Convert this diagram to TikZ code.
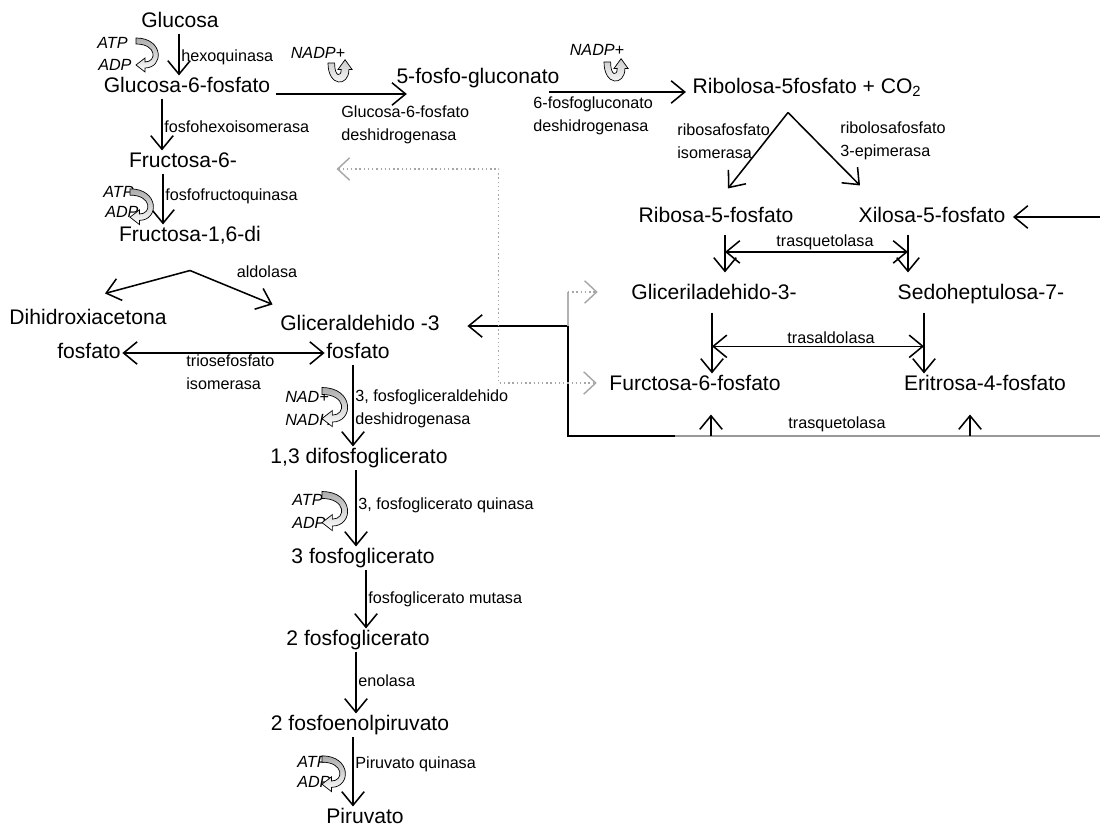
\documentclass[tikz,border=0pt]{standalone}
\usepackage{fontspec}
\setmainfont{Liberation Sans}
\usepackage{tikz}
\usetikzlibrary{arrows.meta,calc}

\tikzset{
  turnarrow/.pic={
    \path[draw, line width=0.5pt, top color=gray!65, bottom color=white]
      (0,-3) .. controls (28,-3) and (28,27) .. (9,27) -- (9,31) -- (0,24)
      -- (9,17) -- (9,21) .. controls (21,21) and (21,3) .. (0,3) -- cycle;
  },
  uarrow/.pic={
    \path[draw, line width=0.5pt, top color=gray!40, bottom color=white]
      (0,0) .. controls (0,22) and (19,22) .. (19,6) -- (22,6) -- (15.5,-3)
      -- (9,6) -- (12,6) .. controls (12,13) and (6,13) .. (6,0) -- cycle;
  },
}

\begin{document}
\begin{tikzpicture}[
  x=0.025cm, y=-0.025cm,
  met/.style={font=\fontsize{15}{18}\selectfont, text height=11pt, text depth=3pt, inner sep=1pt},
  enz/.style={font=\fontsize{11.5}{16}\selectfont, align=left, inner sep=1.5pt},
  cof/.style={font=\fontsize{11.5}{14}\selectfont\itshape, inner sep=0pt},
  arr/.style={-{Straight Barb[length=3.4mm,width=5.6mm]}, line width=1.1pt},
  darr/.style={{Straight Barb[length=3.4mm,width=5.6mm]}-{Straight Barb[length=3.4mm,width=5.6mm]}, line width=1.1pt},
  dotline/.style={gray!70, dotted, line width=1pt},
]
\fill[white] (0,0) rectangle (1100,832);
\useasboundingbox (0,0) rectangle (1100,832);

\node[met] (glc) at (180,22) {Glucosa};
\node[met] (g6p) at (187,87) {Glucosa-6-fosfato};
\node[met] (f6p) at (183,162) {Fructosa-6-};
\node[met] (fbp) at (190,236) {Fructosa-1,6-di};
\node[met] (dhap) at (88,319) {Dihidroxiacetona};
\node[met] (dhapf) at (89,353) {fosfato};
\node[met] (g3p) at (360,325) {Gliceraldehido -3};
\node[met] (g3pf) at (358,353) {fosfato};
\node[met] (bpg) at (359,458) {1,3 difosfoglicerato};
\node[met] (pga3) at (363,558) {3 fosfoglicerato};
\node[met] (pga2) at (358,640) {2 fosfoglicerato};
\node[met] (pep) at (360,725) {2 fosfoenolpiruvato};
\node[met] (pyr) at (365,818) {Piruvato};

\node[met] (pg) at (478,78) {5-fosfo-gluconato};
\node[met] (rib) at (807,88) {Ribolosa-5fosfato + CO\textsubscript{2}};
\node[met] (r5p) at (716,217) {Ribosa-5-fosfato};
\node[met] (x5p) at (932,217) {Xilosa-5-fosfato};
\node[met] (gadp) at (714,294) {Gliceriladehido-3-};
\node[met] (s7p) at (981,294) {Sedoheptulosa-7-};
\node[met] (f6pb) at (695,385) {Furctosa-6-fosfato};
\node[met] (e4p) at (985,385) {Eritrosa-4-fosfato};

\node[enz, anchor=west] (hk) at (179,57) {hexoquinasa};
\node[enz, anchor=west] (phi) at (162,127) {fosfohexoisomerasa};
\node[enz, anchor=west] (pfk) at (163,196) {fosfofructoquinasa};
\node[enz] (ald) at (267,272) {aldolasa};
\node[enz, anchor=west] (tpi) at (184,372) {triosefosfato\\isomerasa};
\node[enz, anchor=west] (gapdh) at (353,409) {3, fosfogliceraldehido\\deshidrogenasa};
\node[enz, anchor=west] (pgk) at (356,505) {3, fosfoglicerato quinasa};
\node[enz, anchor=west] (pgm) at (366,599) {fosfoglicerato mutasa};
\node[enz, anchor=west] (eno) at (356,681) {enolasa};
\node[enz, anchor=west] (pk) at (353,764) {Piruvato quinasa};
\node[enz, anchor=west] (g6pdh) at (339,125) {Glucosa-6-fosfato\\deshidrogenasa};
\node[enz, anchor=west] (pgdh) at (531,116) {6-fosfogluconato\\deshidrogenasa};
\node[enz, anchor=west] (rpi) at (675,141) {ribosafosfato\\isomerasa};
\node[enz, anchor=west] (rpe) at (838,141) {ribolosafosfato\\3-epimerasa};
\node[enz] (tk1) at (825,242) {trasquetolasa};
\node[enz] (tal) at (831,338) {trasaldolasa};
\node[enz] (tk2) at (837,424) {trasquetolasa};

\node[cof, anchor=west] (atp1) at (97,43) {ATP};
\node[cof, anchor=west] (adp1) at (98,65) {ADP};
\node[cof, anchor=west] (atp2) at (103,192) {ATP};
\node[cof, anchor=west] (adp2) at (105,212) {ADP};
\node[cof, anchor=west] (nad) at (285,397) {NAD+};
\node[cof, anchor=west] (nadh) at (285,420) {NADH};
\node[cof, anchor=west] (atp3) at (292,500) {ATP};
\node[cof, anchor=west] (adp3) at (292,523) {ADP};
\node[cof, anchor=west] (atp4) at (297,762) {ATP};
\node[cof, anchor=west] (adp4) at (297,782) {ADP};
\node[cof] (nadp1) at (318,53) {NADP+};
\node[cof] (nadp2) at (597,50) {NADP+};

\draw[arr] (glc.south -| hk.west) -- (g6p.north -| hk.west);
\draw[arr] (g6p.south -| phi.west) -- (f6p.north -| phi.west);
\draw[arr] (f6p.south -| pfk.west) -- (fbp.north -| pfk.west);
\coordinate (apex) at ($(fbp.south)+(0,23)$);
\draw[arr] (apex) -- ($(dhap.north)+(17,-14)$);
\draw[arr] (apex) -- ($(g3p.north west)+(-6,-9)$);
\draw[darr] (dhapf) -- (g3pf);
\draw[arr] (g3pf.south -| gapdh.west) -- (bpg.north -| gapdh.west);
\draw[arr] (bpg.south -| pgk.west) -- (pga3.north -| pgk.west);
\draw[arr] (pga3.south -| pgm.west) -- (pga2.north -| pgm.west);
\draw[arr] (pga2.south -| eno.west) -- (pep.north -| eno.west);
\draw[arr] (pep.south -| pk.west) -- (pyr.north -| pk.west);

\coordinate (h1) at ($(g6p.east)+(4,7)$);
\coordinate (h2) at ($(pg.east)+(-12,14)$);
\draw[arr] (h1) -- ($(h1 -| pg.west)+(12,0)$);
\draw[arr] (h2) -- ($(h2 -| rib.west)+(-5,0)$);
\coordinate (vtop) at ($(rib.south)+(-19,13)$);
\draw[arr] (vtop) -- ($(r5p.north)+(12,-17)$);
\draw[arr] (vtop) -- ($(x5p.north)+(-72,-20)$);
\coordinate (xin) at (1100,217);
\draw[arr] (xin) -- ($(x5p.east)+(6,0)$);

\coordinate (c1) at ($(r5p.south)+(9,6)$);
\coordinate (c2) at ($(x5p.south)+(-24,6)$);
\coordinate (c3) at ($(gadp.south)+(-2,7)$);
\coordinate (c4) at ($(s7p.south)+(-57,7)$);
\draw[arr, shorten >=2.5mm] (c1) -- (c1 |- gadp.north);
\draw[arr, shorten >=2.5mm] (c2) -- (c2 |- s7p.north);
\draw[darr] (c1 |- tk1.south) -- (c2 |- tk1.south);
\draw[arr] (c3) -- (c3 |- f6pb.north);
\draw[arr] (c4) -- (c4 |- e4p.north);
\draw[darr] (c3 |- tal.south) -- (c4 |- tal.south);

\coordinate (redge) at (1100,436);
\coordinate (corner) at (568,436);
\coordinate (midb) at (675,436);
\coordinate (g3pin) at ($(g3p.east)+(26,1)$);
\draw[line width=1.1pt, gray!80] (redge) -- (midb);
\draw[arr] (midb) -- (corner) |- (g3pin);
\coordinate (u1) at ($(f6pb.south)+(16,18)$);
\coordinate (u2) at ($(e4p.south)+(-15,18)$);
\draw[arr] (u1 |- redge) -- (u1);
\draw[arr] (u2 |- redge) -- (u2);

\coordinate (gadpin) at ($(gadp.west)+(-32,-2)$);
\draw[line width=0.8pt, gray!60] (corner |- g3pin) -- (corner |- gadpin);
\draw[dotline, -{Straight Barb[length=3mm,width=5.6mm]}] (corner |- gadpin) -- (gadpin);
\coordinate (f6in) at ($(f6pb.west)+(-11,-2)$);
\coordinate (f6back) at ($(f6p.east)+(98,7)$);
\coordinate (dturn) at ($(f6in)+(-98,0)$);
\draw[dotline, {Straight Barb[length=3mm,width=5.6mm]}-{Straight Barb[length=3mm,width=5.6mm]}] (f6back) -| (dturn) -- (f6in);

\pic at (136,41) {turnarrow};
\pic[scale=1.05] at (130,192) {turnarrow};
\pic[scale=1.15] at (322,391) {turnarrow};
\pic[scale=1.15] at (322,495) {turnarrow};
\pic[scale=1.05] at (322,759) {turnarrow};
\pic[scale=1.1] at (328,63) {uarrow};
\pic[scale=1.1] at (604,62) {uarrow};
\end{tikzpicture}
\end{document}
